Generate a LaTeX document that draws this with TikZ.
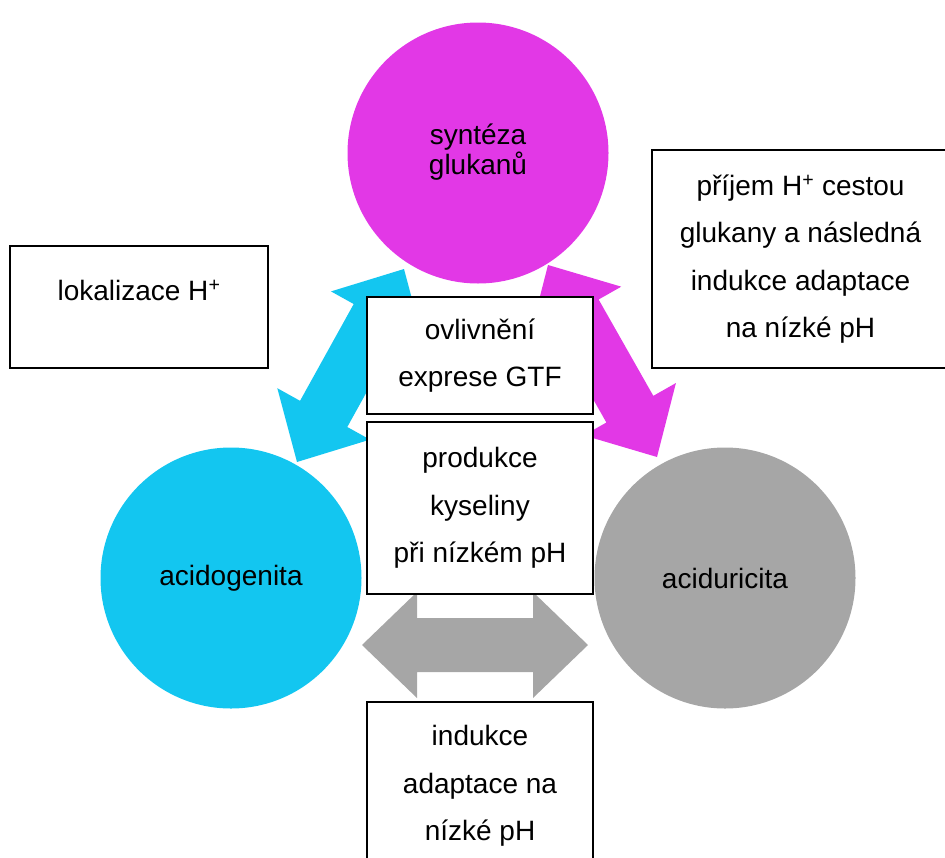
\documentclass[tikz,border=0pt]{standalone}
\usepackage{fontspec}
\setmainfont{Liberation Sans}
\usetikzlibrary{calc}

\definecolor{glukan}{RGB}{226,56,230}
\definecolor{acido}{RGB}{19,198,240}
\definecolor{aciduri}{RGB}{166,166,166}

% double block arrow between two named points
\newcommand{\blockarrow}[3]{%
  \path ($(#1)!55pt!(#2)$) coordinate (h1) ($(#2)!55pt!(#1)$) coordinate (h2);
  \fill[#3] (#1) -- ($(h1)!53pt!90:(#2)$) -- ($(h1)!27pt!90:(#2)$)
    -- ($(h2)!27pt!-90:(#1)$) -- ($(h2)!53pt!-90:(#1)$) -- (#2)
    -- ($(h2)!53pt!90:(#1)$) -- ($(h2)!27pt!90:(#1)$)
    -- ($(h1)!27pt!-90:(#2)$) -- ($(h1)!53pt!-90:(#2)$) -- cycle;
}

\begin{document}
\begin{tikzpicture}[x=1pt,y=-1pt,
  txt/.style={font=\fontsize{28}{47.5}\selectfont, align=center},
  bubble/.style={circle, minimum size=261pt, inner sep=0pt},
  box/.style={draw=black, line width=2.5pt, fill=white, inner sep=0pt}]
  \useasboundingbox (0,0) rectangle (945,857);
  \clip (0,0) rectangle (945,857);
  % Arrows
  \coordinate (cyanTop) at (404,269);
  \coordinate (cyanTip) at (297,462);
  \coordinate (pinkTop) at (548,265);
  \coordinate (pinkTip) at (657,457);
  \coordinate (grayLeft) at (362,645);
  \coordinate (grayRight) at (588,645);
  \blockarrow{cyanTop}{cyanTip}{acido}
  \blockarrow{pinkTop}{pinkTip}{glukan}
  \blockarrow{grayLeft}{grayRight}{aciduri}
  % Circles
  \node[bubble, fill=glukan] (synteza) at (478,153) {};
  \node[font=\fontsize{28}{28}\selectfont, align=center] (syntText) at (478,152) {syntéza\\glukanů};
  \node[bubble, fill=acido, txt] (acidogenita) at (231,578) {acidogenita};
  \node[bubble, fill=aciduri, txt] (aciduricita) at (725,578) {aciduricita};
  % Boxes
  \node[box, minimum width=258pt, minimum height=122pt] (lokalizace) at (139,307) {};
  \node[txt] (lokText) at (139,290) {lokalizace H\textsuperscript{+}};
  \node[box, txt, minimum width=297pt, minimum height=218pt] (prijem) at (800.5,259)
    {příjem H\textsuperscript{+} cestou\\glukany a následná\\indukce adaptace\\na nízké pH};
  \node[box, txt, minimum width=226pt, minimum height=117pt] (ovlivneni) at (480,355.5)
    {ovlivnění\\exprese GTF};
  \node[box, txt, minimum width=226pt, minimum height=172pt] (produkce) at (480,508)
    {produkce\\kyseliny\\při nízkém pH};
  \node[box, txt, minimum width=226pt, minimum height=168pt] (indukce) at (480,786)
    {indukce\\adaptace na\\nízké pH};
\end{tikzpicture}
\end{document}
